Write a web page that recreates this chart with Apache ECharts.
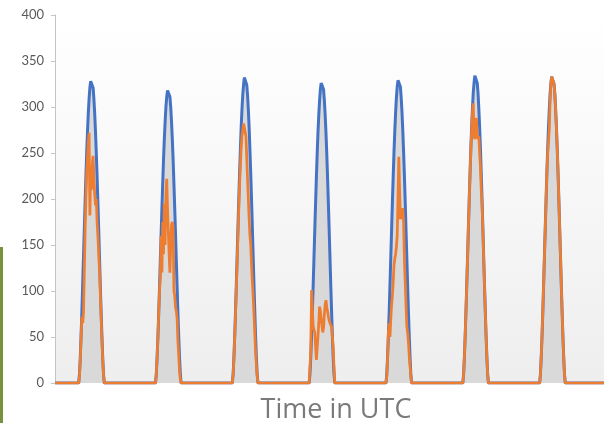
<!DOCTYPE html>
<html>
<head>
<meta charset="utf-8">
<style>
  html, body { margin: 0; padding: 0; background: #ffffff; }
  #chart { width: 604px; height: 423px; }
</style>
<script src="https://cdn.jsdelivr.net/npm/echarts@6/dist/echarts.min.js"></script>
</head>
<body>
<div id="chart"></div>
<script>
// Irradiance (W/m²) over seven days, sampled every 15 minutes around solar noon.
const axisStart = 0.1;   // hours
const axisEnd = 171.6;   // hours
const noonTimes = [11.5, 35.5, 59.5, 83.5, 107.5, 131.5, 155.5];
const sampleOffsets = [-4, -3.75, -3.5, -3.25, -3, -2.75, -2.5, -2.25, -2, -1.75, -1.5, -1.25, -1, -0.75, -0.5, -0.25,
  0, 0.25, 0.5, 0.75, 1, 1.25, 1.5, 1.75, 2, 2.25, 2.5, 2.75, 3, 3.25, 3.5, 3.75, 4];
const yTicks = [0, 50, 100, 150, 200, 250, 300, 350, 400];
const xTitle = 'Time in UTC';

// Clear-sky irradiance
const clearSky1 = [0,10,28,52,78,107,137,167,196,224,250,273,293,309,321,328,330,328,321,309,293,273,250,224,196,167,137,107,78,52,28,10,0];
const clearSky2 = [0,10,28,50,76,104,133,162,190,217,243,265,284,300,311,318,320,318,311,300,284,265,243,217,190,162,133,104,76,50,28,10,0];
const clearSky3 = [0,10,29,52,79,108,138,169,199,227,253,277,297,313,324,332,334,332,324,313,297,277,253,227,199,169,138,108,79,52,29,10,0];
const clearSky4 = [0,10,28,51,78,106,136,166,195,223,249,272,291,307,319,326,328,326,319,307,291,272,249,223,195,166,136,106,78,51,28,10,0];
const clearSky5 = [0,10,29,52,78,107,137,167,197,225,251,274,294,310,322,329,331,329,322,310,294,274,251,225,197,167,137,107,78,52,29,10,0];
const clearSky6 = [0,10,29,53,80,109,139,170,200,228,255,278,298,315,326,334,336,334,326,315,298,278,255,228,200,170,139,109,80,53,29,10,0];
const clearSky7 = [0,10,29,52,79,108,139,169,199,228,254,277,297,314,325,333,335,333,325,314,297,277,254,228,199,169,139,108,79,52,29,10,0];

// Measured irradiance
const measured1 = [0,8,25,50,72,65,76,120,165,200,228,245,262,272,182,232,210,238,247,222,205,193,200,175,160,140,122,98,72,48,26,9,0];
const measured2 = [0,10,28,50,76,100,115,160,120,175,140,195,150,205,222,190,165,140,120,150,172,175,170,100,95,82,78,70,45,30,12,4,0];
const measured3 = [0,10,27,50,76,104,132,160,188,214,236,255,268,275,282,278,280,268,245,222,200,178,160,150,128,110,95,75,55,35,20,8,0];
const measured4 = [0,0,35,101,80,62,58,55,40,25,38,50,65,83,78,70,62,55,60,75,85,90,82,78,72,68,65,63,61,50,39,18,0];
const measured5 = [0,8,28,55,65,50,70,85,95,110,128,135,140,148,160,200,246,210,178,180,185,190,175,134,110,85,62,55,45,30,18,8,0];
const measured6 = [0,10,29,53,80,109,139,170,200,228,252,275,294,304,270,265,282,288,270,265,268,250,235,210,195,168,138,108,80,53,29,10,0];
const measured7 = [0,10,29,52,79,108,139,169,199,228,250,262,275,305,325,333,335,333,325,314,297,277,254,228,199,169,139,108,79,52,29,10,0];

const clearSkyDays = [clearSky1, clearSky2, clearSky3, clearSky4, clearSky5, clearSky6, clearSky7];
const measuredDays = [measured1, measured2, measured3, measured4, measured5, measured6, measured7];

// Join the daily samples into one time series; nights stay at zero.
function buildSeries(days) {
  const out = [[axisStart, 0]];
  days.forEach((vals, d) => {
    vals.forEach((v, i) => out.push([noonTimes[d] + sampleOffsets[i], v]));
  });
  out.push([axisEnd, 0]);
  return out;
}

const chart = echarts.init(document.getElementById('chart'), null, { renderer: 'canvas' });
chart.setOption({
  animation: false,
  backgroundColor: '#ffffff',
  title: {
    text: xTitle, left: 331, top: 392, textAlign: 'center',
    textStyle: { fontFamily: 'Open Sans', fontSize: 27, fontWeight: 'normal', color: '#7a7a7a' }
  },
  grid: {
    left: 55, right: 0, top: 15, bottom: 40,
    show: true, borderWidth: 0,
    backgroundColor: {
      type: 'linear', x: 0, y: 0, x2: 0, y2: 1,
      colorStops: [{ offset: 0, color: '#ffffff' }, { offset: 1, color: '#eeeeee' }]
    }
  },
  xAxis: {
    type: 'value', min: axisStart, max: axisEnd,
    axisLine: { show: false }, axisTick: { show: false },
    axisLabel: { show: false }, splitLine: { show: false }
  },
  yAxis: {
    type: 'value', min: yTicks[0], max: yTicks[yTicks.length - 1], interval: yTicks[1] - yTicks[0],
    axisLine: { show: true, lineStyle: { color: '#c4c4c4', width: 1 } },
    axisTick: { show: true, length: 4, lineStyle: { color: '#c4c4c4' } },
    axisLabel: { fontFamily: 'Lato', fontSize: 13, color: '#595959', margin: 11 },
    splitLine: { show: false }
  },
  graphic: [{
    type: 'line', silent: true,
    shape: { x1: 1.5, y1: 247, x2: 1.5, y2: 423 },
    style: { stroke: '#76923c', lineWidth: 3 }
  }],
  series: [
    {
      name: 'Clear sky', type: 'line', data: buildSeries(clearSkyDays),
      showSymbol: false, symbol: 'none',
      lineStyle: { color: '#4472c4', width: 3 },
      areaStyle: { color: '#d9d9d9', opacity: 1 },
      z: 2
    },
    {
      name: 'Measured', type: 'line', data: buildSeries(measuredDays),
      showSymbol: false, symbol: 'none',
      lineStyle: { color: '#ed7d31', width: 2.75 },
      z: 3
    }
  ]
});
</script>
</body>
</html>
